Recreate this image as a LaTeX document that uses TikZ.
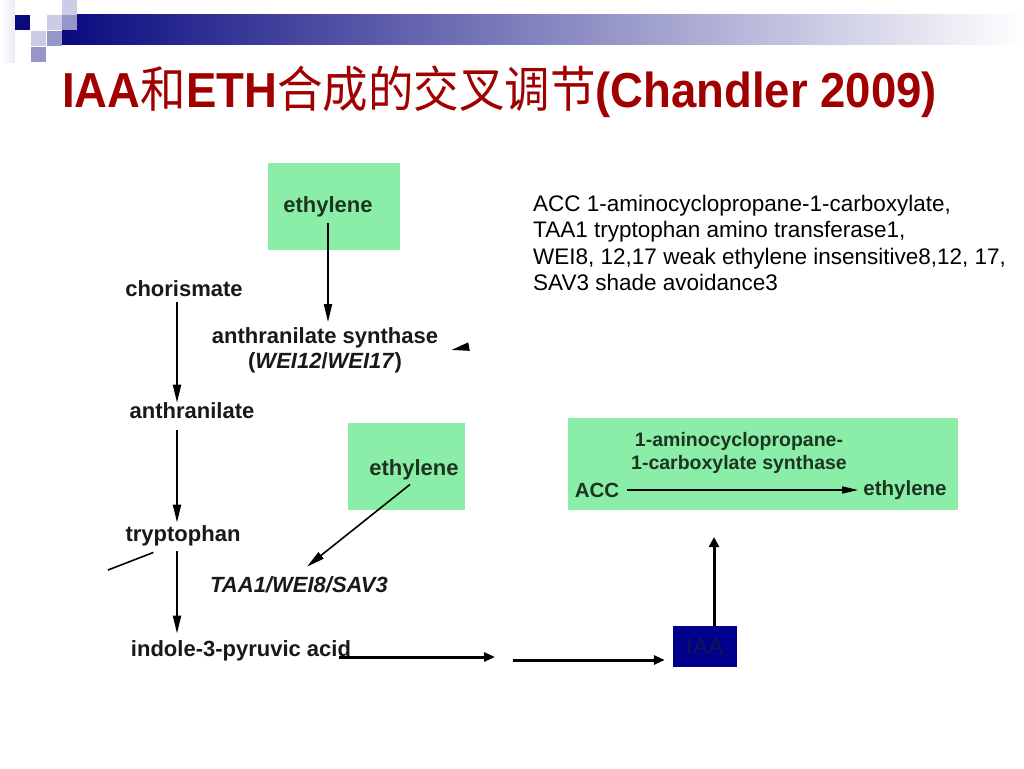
\documentclass[tikz,border=0pt]{standalone}
\usepackage{fontspec}
\setmainfont{Liberation Sans}
\newfontfamily\cjk{Noto Sans CJK SC}
\usepackage{xcolor}
\usetikzlibrary{arrows.meta,calc,positioning}

\definecolor{titlered}{RGB}{160,0,0}
\definecolor{logonavy}{RGB}{10,10,128}
\definecolor{logolight}{RGB}{204,204,228}
\definecolor{logomid}{RGB}{150,150,200}
\definecolor{ethgreen}{RGB}{138,238,168}
\definecolor{ethtxt}{RGB}{28,52,32}
\definecolor{iaablue}{RGB}{0,0,140}
\definecolor{iaatxt}{RGB}{20,20,80}

\begin{document}
\begin{tikzpicture}[
		x=1pt, y=-1pt,
		lbl/.style={font=\fontsize{22}{25}\selectfont\bfseries, text=black!90, inner sep=0pt, align=center},
		ethlbl/.style={lbl, text=ethtxt},
		acclbl/.style={font=\fontsize{19.5}{23}\selectfont\bfseries, inner sep=0pt, align=center, text=ethtxt},
		flow/.style={-{Triangle[length=18pt,width=8pt]}, line width=2pt},
		link/.style={-{Triangle[length=11pt,width=9pt]}, line width=3pt}
		]
	
		\fill[white] (0,0) rectangle (1024,768);
		\useasboundingbox (0,0) rectangle (1024,768);
	
		% --- Logo ---
		\shade[left color=white, right color=logolight!40] (0,0) rectangle (15,62);
		\shade[left color=logonavy, right color=white] (62,15) rectangle (1024,45);
		\fill[logonavy] (15,15) rectangle (30,30);
		\fill[logolight] (47,15) rectangle (62,30);
		\fill[logolight] (62,0) rectangle (77,15);
		\fill[logomid] (62,15) rectangle (77,30);
		\fill[logolight] (31,31) rectangle (46,46);
		\fill[logomid] (47,31) rectangle (62,46);
		\fill[logomid] (31,47) rectangle (46,62);
	
		\node[anchor=base west, inner sep=0pt, text=titlered, font=\fontsize{45.5}{50}\selectfont\bfseries] (title) at (62,107)
			{\scalebox{1}[1.08]{IAA{\cjk\mdseries 和}ETH{\cjk\mdseries 合成的交叉调节}(Chandler 2009)}};
	
		% --- Legende ---
		\node[anchor=north west, inner sep=0pt, align=left, font=\fontsize{22.5}{26.5}\selectfont] (legend) at (533,194.5)
			{ACC 1-aminocyclopropane-1-carboxylate,\\
			 TAA1 tryptophan amino transferase1,\\
			 WEI8, 12,17 weak ethylene insensitive8,12, 17,\\
			 SAV3 shade avoidance3};
	
		% --- Voie de l'IAA ---
		\fill[ethgreen] (268,163) rectangle (400,250);
		\fill[ethgreen] (348,423) rectangle (465,510);
	
		\node[ethlbl] (eth1) at (328,207) {ethylene};
		\node[lbl] (chor) at (184,289) {chorismate};
		\node[lbl] (antsyn) at (325,350) {anthranilate synthase\\(\textit{WEI12}/\textit{WEI17})};
		\node[lbl] (ant) at (192,411) {anthranilate};
		\node[lbl] (tryp) at (183,536) {tryptophan};
		\node[ethlbl] (eth2) at (414,470) {ethylene};
		\node[lbl] (taa) at (299,585) {\textit{TAA1/WEI8/SAV3}};
		\node[lbl] (ipa) at (241,651) {indole-3-pyruvic acid};
	
		\coordinate (cut1) at (108,570);
		\coordinate (cut2) at (467,347);
	
		\draw[flow, shorten <=6pt, shorten >=5pt] (eth1.south) -- (eth1.south |- antsyn.north);
		\draw[flow, shorten <=5pt, shorten >=0pt] ([xshift=-7pt]chor.south) -- ([xshift=-15pt]ant.north);
		\draw[flow, shorten <=11pt, shorten >=3pt] ([xshift=-15pt]ant.south) -- ([xshift=-6pt]tryp.north);
		\draw[flow, shorten <=5pt, shorten >=7pt] ([xshift=-6pt]tryp.south) -- ([xshift=-64pt]ipa.north);
		\draw[flow, line width=1.6pt] ([shift={(-4,4)}]eth2.south) -- ([shift={(8,-10)}]taa.north);
		\draw[flow] (cut2) -- ([xshift=13pt]antsyn.east);
		\draw[line width=1.6pt] (cut1) -- ([shift={(28,6)}]tryp.south west);
	
		% --- Synthese de l'ethylene ---
		\node[fill=ethgreen, minimum width=390pt, minimum height=92pt] (accbox) at (763,464) {};
		\node[acclbl] (acsyn) at (739,453) {1-aminocyclopropane-\\1-carboxylate synthase};
		\node[acclbl, font=\fontsize{20.5}{23}\selectfont\bfseries] (acc) at (597,490) {ACC};
		\node[acclbl, font=\fontsize{20.5}{23}\selectfont\bfseries] (eth3) at (905,490) {ethylene};
		\draw[-{Triangle[length=16pt,width=7pt]}, line width=1.5pt, shorten <=8pt, shorten >=5pt] (acc) -- (eth3);
	
		% --- IAA ---
		\node[fill=iaablue, minimum width=64pt, minimum height=41pt, inner sep=0pt, text=iaatxt,
			font=\fontsize{23}{26}\selectfont] (iaa) at (705,646.5) {IAA};
	
		\coordinate (gap1) at (495,657);
		\coordinate (gap2) at (513,660);
		\coordinate (acctip) at (714,537);
	
		\draw[link] ($(ipa.east |- gap1)+(-12,0)$) -- (gap1);
		\draw[link, shorten >=8pt] (gap2) -- (gap2 -| iaa.west);
		\draw[link, -{Triangle[length=10pt,width=10pt]}] (acctip |- iaa.north) -- (acctip);
	
	\end{tikzpicture}
\end{document}
